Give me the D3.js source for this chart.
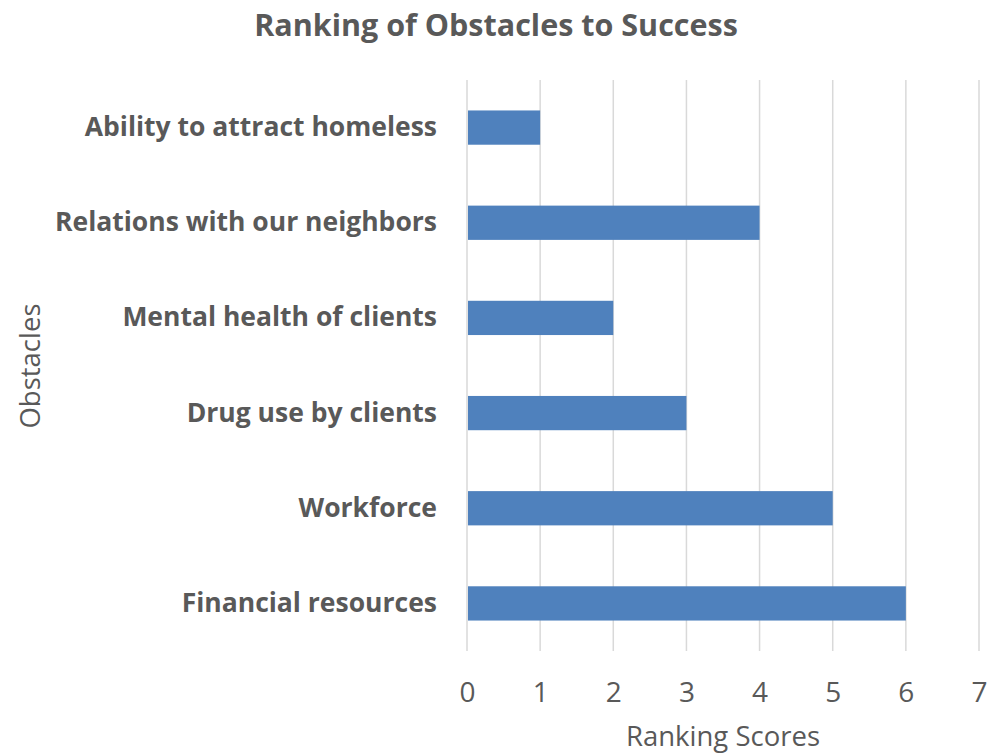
<!DOCTYPE html>
<html>
<head>
<meta charset="utf-8">
<script src="https://cdn.jsdelivr.net/npm/d3@7"></script>
<style>
  html, body { margin: 0; padding: 0; background: #fff; overflow: hidden; }
  svg { display: block; font-family: "Open Sans", sans-serif; }
</style>
</head>
<body>
<div id="chart"></div>
<script>
// data, top to bottom as shown
const obstacles = [
  "Ability to attract homeless",
  "Relations with our neighbors",
  "Mental health of clients",
  "Drug use by clients",
  "Workforce",
  "Financial resources"
];
const scores = [1, 4, 2, 3, 5, 6];
const xTicks = [0, 1, 2, 3, 4, 5, 6, 7];

const width = 998;
const height = 755;
const margin = { top: 80, right: 19, bottom: 104, left: 467 };
const innerWidth = width - margin.left - margin.right;
const innerHeight = height - margin.top - margin.bottom;

const textColor = "#595959";

const svg = d3.select("#chart")
  .append("svg")
  .attr("width", width)
  .attr("height", height);

const xScale = d3.scaleLinear().domain([0, 7]).range([0, innerWidth]);
const yScale = d3.scaleBand()
  .domain(obstacles)
  .range([0, innerHeight])
  .paddingInner(0.64)
  .paddingOuter(0.32);

const g = svg.append("g")
  .attr("transform", `translate(${margin.left},${margin.top})`);

// vertical gridlines
g.selectAll("line.grid")
  .data(xTicks)
  .enter()
  .append("line")
  .attr("class", "grid")
  .attr("x1", (d) => xScale(d))
  .attr("x2", (d) => xScale(d))
  .attr("y1", 0)
  .attr("y2", innerHeight)
  .attr("stroke", "#d9d9d9")
  .attr("stroke-width", 1.5);

// bars
g.selectAll("rect.bar")
  .data(obstacles)
  .enter()
  .append("rect")
  .attr("class", "bar")
  .attr("x", xScale(0) + 1)
  .attr("y", (d) => yScale(d))
  .attr("width", (d, i) => xScale(scores[i]) - xScale(0) - 1)
  .attr("height", yScale.bandwidth())
  .attr("fill", "#4f81bd");

// category labels (bold)
const yAxis = g.append("g")
  .call(d3.axisLeft(yScale).tickSize(0).tickPadding(30))
  .attr("font-size", "26.5px")
  .attr("font-weight", "bold")
  .attr("font-family", "'Open Sans', sans-serif");
yAxis.select(".domain").remove();
yAxis.selectAll("text").attr("fill", textColor);

// x ticks
const xAxis = g.append("g")
  .attr("transform", `translate(0,${innerHeight})`)
  .call(d3.axisBottom(xScale).tickValues(xTicks).tickSize(0).tickPadding(31)
    .tickFormat(d3.format("d")))
  .attr("font-size", "28px")
  .attr("font-family", "'Open Sans', sans-serif");
xAxis.select(".domain").remove();
xAxis.selectAll("text").attr("fill", textColor);

// title
svg.append("text")
  .attr("x", 496)
  .attr("y", 36)
  .attr("text-anchor", "middle")
  .attr("fill", textColor)
  .attr("font-size", "30.5px")
  .attr("font-weight", "bold")
  .text("Ranking of Obstacles to Success");

// axis titles
svg.append("text")
  .attr("x", margin.left + innerWidth / 2)
  .attr("y", 746)
  .attr("text-anchor", "middle")
  .attr("fill", textColor)
  .attr("font-size", "27.5px")
  .text("Ranking Scores");

svg.append("text")
  .attr("transform", "rotate(-90)")
  .attr("x", -366)
  .attr("y", 40)
  .attr("text-anchor", "middle")
  .attr("fill", textColor)
  .attr("font-size", "27.5px")
  .text("Obstacles");
</script>
</body>
</html>
